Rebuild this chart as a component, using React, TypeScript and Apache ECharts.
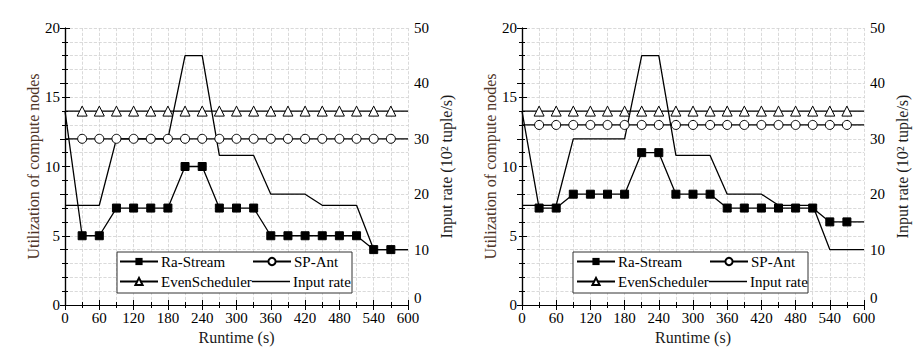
import React, { useEffect, useRef } from "react";
import * as echarts from "echarts";

const runtime = [0, 30, 60, 90, 120, 150, 180, 210, 240, 270, 300, 330, 360, 390, 420, 450, 480, 510, 540, 570, 600];
const raStreamA = [14, 5, 5, 7, 7, 7, 7, 10, 10, 7, 7, 7, 5, 5, 5, 5, 5, 5, 4, 4, 4];
const spAntA = [12, 12, 12, 12, 12, 12, 12, 12, 12, 12, 12, 12, 12, 12, 12, 12, 12, 12, 12, 12, 12];
const evenA = [14, 14, 14, 14, 14, 14, 14, 14, 14, 14, 14, 14, 14, 14, 14, 14, 14, 14, 14, 14, 14];
const inputA = [18, 18, 18, 30, 30, 30, 30, 45, 45, 27, 27, 27, 20, 20, 20, 18, 18, 18, 10, 10, 10];

const raStreamB = [14, 7, 7, 8, 8, 8, 8, 11, 11, 8, 8, 8, 7, 7, 7, 7, 7, 7, 6, 6, 6];
const spAntB = [13, 13, 13, 13, 13, 13, 13, 13, 13, 13, 13, 13, 13, 13, 13, 13, 13, 13, 13, 13, 13];
const evenB = [14, 14, 14, 14, 14, 14, 14, 14, 14, 14, 14, 14, 14, 14, 14, 14, 14, 14, 14, 14, 14];
const inputB = [18, 18, 18, 30, 30, 30, 30, 45, 45, 27, 27, 27, 20, 20, 20, 18, 18, 18, 10, 10, 10];

const FONT = "Liberation Serif";

function pts(ys: number[]) {
  return runtime.map((x, i) => {
    const end = i === 0 || i === runtime.length - 1;
    if (end) return { value: [x, ys[i]], symbol: "none" };
    return { value: [x, ys[i]] };
  });
}

export default function App() {
  const ref = useRef<HTMLDivElement>(null);
  useEffect(() => {
    if (!ref.current) return;
    const chart = echarts.init(ref.current, null, { renderer: "svg" });
    const grids = [
      { left: 65, top: 28, width: 343, height: 277 },
      { left: 522, top: 28, width: 342, height: 277 },
    ];
    const xAxes: any[] = [];
    const yAxes: any[] = [];
    grids.forEach((_, g) => {
      xAxes.push({
        type: "value",
        gridIndex: g,
        min: 0,
        max: 600,
        interval: 60,
        position: "bottom",
        name: "Runtime (s)",
        nameLocation: "middle",
        nameGap: 24,
        nameTextStyle: { fontFamily: FONT, fontSize: 16, color: "#1a1a1a" },
        axisLine: { show: true, lineStyle: { color: "#000", width: 1.2 } },
        axisTick: { show: true, inside: true, length: 5, lineStyle: { color: "#000" } },
        minorTick: { show: true, splitNumber: 2, length: 3, lineStyle: { color: "#000" } },
        axisLabel: { fontFamily: FONT, fontSize: 15, color: "#000", margin: 5 },
        splitLine: { show: true, lineStyle: { color: "#d0d0d0", type: "dashed", width: 0.8 } },
        minorSplitLine: { show: true, lineStyle: { color: "#d0d0d0", type: "dashed", width: 0.8 } },
      });
      xAxes.push({
        type: "value",
        gridIndex: g,
        min: 0,
        max: 600,
        interval: 60,
        position: "top",
        axisLine: { show: true, lineStyle: { color: "#000", width: 1.2 } },
        axisTick: { show: true, inside: true, length: 5, lineStyle: { color: "#000" } },
        minorTick: { show: true, splitNumber: 2, length: 3, lineStyle: { color: "#000" } },
        axisLabel: { show: false },
        splitLine: { show: false },
      });
      yAxes.push({
        type: "value",
        gridIndex: g,
        min: 0,
        max: 20,
        interval: 5,
        position: "left",
        name: "Utilization of compute nodes",
        nameLocation: "middle",
        nameGap: 23,
        nameTextStyle: { fontFamily: FONT, fontSize: 16, color: "#4e3426" },
        axisLine: { show: true, lineStyle: { color: "#000", width: 1.2 } },
        axisTick: { show: true, inside: true, length: 5, lineStyle: { color: "#000" } },
        minorTick: { show: true, splitNumber: 5, length: 3, lineStyle: { color: "#000" } },
        axisLabel: { fontFamily: FONT, fontSize: 15, color: "#000", margin: 5 },
        splitLine: { show: true, lineStyle: { color: "#d0d0d0", type: "dashed", width: 0.8 } },
        minorSplitLine: { show: true, lineStyle: { color: "#d0d0d0", type: "dashed", width: 0.8 } },
      });
      yAxes.push({
        type: "value",
        gridIndex: g,
        min: 0,
        max: 50,
        interval: 10,
        position: "right",
        name: "Input rate (10² tuple/s)",
        nameLocation: "middle",
        nameGap: 30,
        nameRotate: 90,
        nameTextStyle: { fontFamily: FONT, fontSize: 16, color: "#1a1a1a" },
        axisLine: { show: true, lineStyle: { color: "#000", width: 1.2 } },
        axisTick: { show: true, inside: true, length: 5, lineStyle: { color: "#000" } },
        minorTick: { show: true, splitNumber: 4, length: 3, lineStyle: { color: "#000" } },
        axisLabel: {
          fontFamily: FONT,
          fontSize: 15,
          color: "#000",
          margin: 6,
          verticalAlignMinLabel: "bottom",
        },
        splitLine: { show: false },
      });
    });

    const mk = (g: number, ra: number[], sp: number[], ev: number[], inp: number[]) => [
      {
        name: "Ra-Stream",
        type: "line",
        xAxisIndex: g * 2,
        yAxisIndex: g * 2,
        data: pts(ra),
        symbol: "rect",
        symbolSize: 8,
        lineStyle: { color: "#000", width: 1.3 },
        itemStyle: { color: "#000", borderColor: "#000" },
        z: 5,
      },
      {
        name: "SP-Ant",
        type: "line",
        xAxisIndex: g * 2,
        yAxisIndex: g * 2,
        data: pts(sp),
        symbol: "circle",
        symbolSize: 9,
        showAllSymbol: true,
        lineStyle: { color: "#000", width: 1.3 },
        itemStyle: { color: "#fff", borderColor: "#000", borderWidth: 1 },
        z: 4,
      },
      {
        name: "EvenScheduler",
        type: "line",
        xAxisIndex: g * 2,
        yAxisIndex: g * 2,
        data: pts(ev),
        symbol: "triangle",
        symbolSize: 10,
        showAllSymbol: true,
        lineStyle: { color: "#000", width: 1.3 },
        itemStyle: { color: "#fff", borderColor: "#000", borderWidth: 1 },
        z: 4,
      },
      {
        name: "Input rate",
        type: "line",
        xAxisIndex: g * 2,
        yAxisIndex: g * 2 + 1,
        data: runtime.map((x, i) => [x, inp[i]]),
        symbol: "none",
        lineStyle: { color: "#000", width: 1.3 },
        itemStyle: { color: "#000" },
        z: 3,
      },
    ];

    const legendItem = (name: string, left: number, top: number, lineOnly = false) => ({
      data: [name],
      left,
      top,
      padding: 0,
      itemWidth: 38,
      itemHeight: 9,
      icon: lineOnly ? "path://M0,0 L38,0 L38,1.4 L0,1.4 Z" : undefined,
      itemGap: 0,
      selectedMode: false,
      textStyle: { fontFamily: FONT, fontSize: 15, color: "#000", padding: [0, 0, 0, -2] },
      z: 20,
    });

    const rowTop1 = 254;
    const rowTop2 = 274;
    const legends = [
      legendItem("Ra-Stream", 119, rowTop1),
      legendItem("SP-Ant", 252, rowTop1),
      legendItem("EvenScheduler", 119, rowTop2),
      legendItem("Input rate", 252, rowTop2, true),
      legendItem("Ra-Stream", 576, rowTop1),
      legendItem("SP-Ant", 709, rowTop1),
      legendItem("EvenScheduler", 576, rowTop2),
      legendItem("Input rate", 709, rowTop2, true),
    ];

    chart.setOption({
      animation: false,
      backgroundColor: "#fff",
      grid: grids,
      xAxis: xAxes,
      yAxis: yAxes,
      legend: legends,
      graphic: [
        {
          type: "rect",
          shape: { x: 117, y: 252, width: 235, height: 41 },
          style: { fill: "#fff", stroke: "#333", lineWidth: 1 },
          z: 10,
        },
        {
          type: "rect",
          shape: { x: 573, y: 252, width: 235, height: 41 },
          style: { fill: "#fff", stroke: "#333", lineWidth: 1 },
          z: 10,
        },
      ],
      series: [...mk(0, raStreamA, spAntA, evenA, inputA), ...mk(1, raStreamB, spAntB, evenB, inputB)],
    });
    return () => chart.dispose();
  }, []);
  return <div ref={ref} style={{ position: "fixed", left: 0, top: 0, width: 914, height: 354 }} />;
}
